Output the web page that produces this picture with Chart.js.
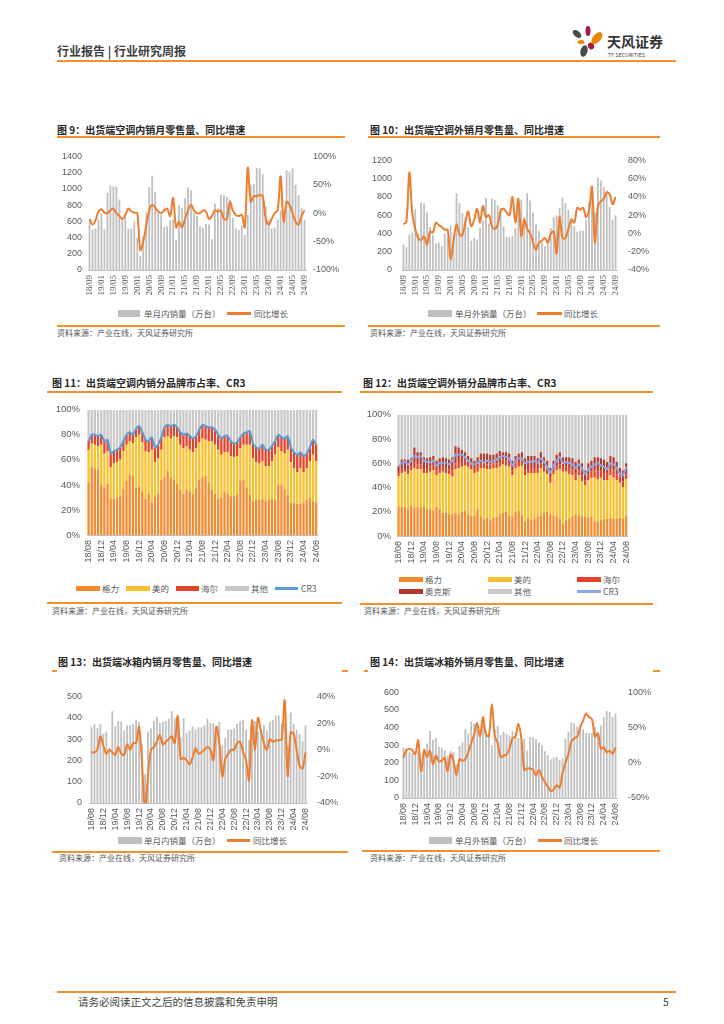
<!DOCTYPE html>
<html>
<head>
<meta charset="utf-8">
<script src="https://cdn.jsdelivr.net/npm/chart.js@4.4.1/dist/chart.umd.min.js"></script>
<style>
body{margin:0;background:#fff;width:724px;height:1024px;position:relative;overflow:hidden;font-family:"Noto Sans CJK SC","Noto Sans",sans-serif;}
.a{position:absolute;white-space:nowrap;line-height:1;}
.title{font-size:10px;font-weight:bold;color:#262626;}
.rule{position:absolute;height:1.5px;background:#F0912E;}
.src{font-size:8px;color:#555;}
.lg{font-size:8.5px;color:#595959;}
.sw{position:absolute;}
</style>
</head>
<body>

<div class="a" style="left:57px;top:45px;font-size:12px;font-weight:bold;color:#404040;">行业报告 | 行业研究周报</div>
<div class="rule" style="left:57px;top:60px;width:619px;height:2px;"></div>
<svg class="a" style="left:566px;top:22px;" width="110" height="40" viewBox="566 22 110 40">
  <ellipse cx="588" cy="31" rx="2.5" ry="5" fill="#A8193D"/>
  <ellipse cx="597" cy="38" rx="4" ry="7" fill="#F08300" transform="rotate(40 597 38)"/>
  <ellipse cx="577" cy="34" rx="3" ry="5" fill="#4A4A4A" transform="rotate(-50 577 34)"/>
  <ellipse cx="581" cy="42" rx="3.5" ry="2" fill="#F08300"/>
  <ellipse cx="591" cy="46" rx="3" ry="3.5" fill="#A8193D" transform="rotate(-30 591 46)"/>
  <ellipse cx="584" cy="51" rx="3.5" ry="6" fill="#4A4A4A" transform="rotate(15 584 51)"/>
</svg>
<div class="a" style="left:607px;top:34px;font-size:14px;font-weight:bold;color:#333;">天风证券</div>
<div class="a" style="left:608px;top:52px;font-size:5px;color:#333;letter-spacing:0.2px;">TF SECURITIES</div>

<!-- chart 9 -->
<div class="a title" style="left:57px;top:125px;">图 9：出货端空调内销月零售量、同比增速</div>
<div class="rule" style="left:57px;top:136px;width:288px;"></div>
<div class="sw" style="left:118px;top:310px;width:22px;height:7px;background:#BFBFBF;"></div>
<div class="a lg" style="left:144px;top:309px;">单月内销量（万台）</div>
<div class="sw" style="left:227px;top:312px;width:24px;height:2.5px;background:#ED7D31;"></div>
<div class="a lg" style="left:254px;top:309px;">同比增长</div>
<div class="rule" style="left:57px;top:325px;width:288px;"></div>
<div class="a src" style="left:57px;top:329px;">资料来源：产业在线，天风证券研究所</div>

<!-- chart 10 -->
<div class="a title" style="left:370px;top:125px;">图 10：出货端空调外销月零售量、同比增速</div>
<div class="rule" style="left:368px;top:136px;width:292px;"></div>
<div class="sw" style="left:428px;top:310px;width:24px;height:7px;background:#BFBFBF;"></div>
<div class="a lg" style="left:455px;top:309px;">单月外销量（万台）</div>
<div class="sw" style="left:537px;top:312px;width:25px;height:2.5px;background:#ED7D31;"></div>
<div class="a lg" style="left:564px;top:309px;">同比增长</div>
<div class="rule" style="left:368px;top:325px;width:292px;"></div>
<div class="a src" style="left:370px;top:329px;">资料来源：产业在线，天风证券研究所</div>

<!-- chart 11 -->
<div class="a title" style="left:52px;top:378px;">图 11：出货端空调内销分品牌市占率、CR3</div>
<div class="rule" style="left:47px;top:391px;width:295px;"></div>
<div class="sw" style="left:76px;top:586px;width:24px;height:5px;background:#F28A2E;"></div>
<div class="a lg" style="left:102px;top:584px;">格力</div>
<div class="sw" style="left:126px;top:586px;width:24px;height:5px;background:#FBC02D;"></div>
<div class="a lg" style="left:152px;top:584px;">美的</div>
<div class="sw" style="left:176px;top:586px;width:23px;height:5px;background:#E0432A;"></div>
<div class="a lg" style="left:201px;top:584px;">海尔</div>
<div class="sw" style="left:225px;top:586px;width:24px;height:5px;background:#C8C8C8;"></div>
<div class="a lg" style="left:251px;top:584px;">其他</div>
<div class="sw" style="left:275px;top:587px;width:23px;height:2.5px;background:#5B9BD5;"></div>
<div class="a lg" style="left:301px;top:584px;">CR3</div>
<div class="rule" style="left:47px;top:602px;width:295px;"></div>
<div class="a src" style="left:52px;top:607px;">资料来源：产业在线，天风证券研究所</div>

<!-- chart 12 -->
<div class="a title" style="left:363px;top:378px;">图 12：出货端空调外销分品牌市占率、CR3</div>
<div class="rule" style="left:360px;top:391px;width:293px;"></div>
<div class="sw" style="left:399px;top:577px;width:24px;height:5px;background:#F28A2E;"></div>
<div class="a lg" style="left:425px;top:575px;">格力</div>
<div class="sw" style="left:488px;top:577px;width:24px;height:5px;background:#FBC02D;"></div>
<div class="a lg" style="left:514px;top:575px;">美的</div>
<div class="sw" style="left:577px;top:577px;width:24px;height:5px;background:#E0432A;"></div>
<div class="a lg" style="left:603px;top:575px;">海尔</div>
<div class="sw" style="left:399px;top:589px;width:24px;height:5px;background:#B33A2C;"></div>
<div class="a lg" style="left:425px;top:587px;">奥克斯</div>
<div class="sw" style="left:488px;top:589px;width:24px;height:5px;background:#C8C8C8;"></div>
<div class="a lg" style="left:514px;top:587px;">其他</div>
<div class="sw" style="left:577px;top:590px;width:24px;height:2.5px;background:#8EA8E6;"></div>
<div class="a lg" style="left:603px;top:587px;">CR3</div>
<div class="rule" style="left:360px;top:603px;width:293px;"></div>
<div class="a src" style="left:364px;top:607px;">资料来源：产业在线，天风证券研究所</div>

<!-- chart 13 -->
<div class="a title" style="left:58px;top:657px;">图 13：出货端冰箱内销月零售量、同比增速</div>
<div class="rule" style="left:52px;top:670px;width:5px;"></div>
<div class="rule" style="left:342px;top:670px;width:6px;"></div>
<div class="sw" style="left:118px;top:837px;width:24px;height:7px;background:#BFBFBF;"></div>
<div class="a lg" style="left:144px;top:836px;">单月内销量（万台）</div>
<div class="sw" style="left:227px;top:839px;width:23px;height:2.5px;background:#ED7D31;"></div>
<div class="a lg" style="left:253px;top:836px;">同比增长</div>
<div class="rule" style="left:52px;top:851px;width:296px;"></div>
<div class="a src" style="left:59px;top:854px;">资料来源：产业在线，天风证券研究所</div>

<!-- chart 14 -->
<div class="a title" style="left:370px;top:657px;">图 14：出货端冰箱外销月零售量、同比增速</div>
<div class="rule" style="left:364px;top:670px;width:4px;"></div>
<div class="rule" style="left:653px;top:670px;width:7px;"></div>
<div class="sw" style="left:429px;top:837px;width:23px;height:7px;background:#BFBFBF;"></div>
<div class="a lg" style="left:455px;top:836px;">单月外销量（万台）</div>
<div class="sw" style="left:538px;top:839px;width:24px;height:2.5px;background:#ED7D31;"></div>
<div class="a lg" style="left:564px;top:836px;">同比增长</div>
<div class="rule" style="left:362px;top:850px;width:298px;"></div>
<div class="a src" style="left:370px;top:854px;">资料来源：产业在线，天风证券研究所</div>

<div class="rule" style="left:57px;top:991px;width:619px;height:2px;"></div>
<div class="a" style="left:78px;top:997px;font-size:10.5px;color:#404040;">请务必阅读正文之后的信息披露和免责申明</div>
<div class="a" style="left:663px;top:997px;font-size:10.5px;color:#404040;">5</div>

<script>
// months 18/09 - 24/09 (air-con charts 9, 10)
var monthsA = ['18/09','18/10','18/11','18/12',
  '19/01','19/02','19/03','19/04','19/05','19/06','19/07','19/08','19/09','19/10','19/11','19/12',
  '20/01','20/02','20/03','20/04','20/05','20/06','20/07','20/08','20/09','20/10','20/11','20/12',
  '21/01','21/02','21/03','21/04','21/05','21/06','21/07','21/08','21/09','21/10','21/11','21/12',
  '22/01','22/02','22/03','22/04','22/05','22/06','22/07','22/08','22/09','22/10','22/11','22/12',
  '23/01','23/02','23/03','23/04','23/05','23/06','23/07','23/08','23/09','23/10','23/11','23/12',
  '24/01','24/02','24/03','24/04','24/05','24/06','24/07','24/08','24/09'];
// months 18/08 - 24/08 (charts 11-14)
var monthsB = ['18/08','18/09','18/10','18/11','18/12',
  '19/01','19/02','19/03','19/04','19/05','19/06','19/07','19/08','19/09','19/10','19/11','19/12',
  '20/01','20/02','20/03','20/04','20/05','20/06','20/07','20/08','20/09','20/10','20/11','20/12',
  '21/01','21/02','21/03','21/04','21/05','21/06','21/07','21/08','21/09','21/10','21/11','21/12',
  '22/01','22/02','22/03','22/04','22/05','22/06','22/07','22/08','22/09','22/10','22/11','22/12',
  '23/01','23/02','23/03','23/04','23/05','23/06','23/07','23/08','23/09','23/10','23/11','23/12',
  '24/01','24/02','24/03','24/04','24/05','24/06','24/07','24/08'];

// chart 9 空调内销
var acDomVol = [610,500,510,620,
  700,500,950,1040,1030,1030,870,640,660,510,510,600,
  400,170,420,710,1020,1160,960,700,680,530,540,610,
  620,370,800,760,880,1020,980,700,670,540,520,570,
  560,380,820,760,930,920,900,870,640,510,490,550,
  430,680,1050,1060,1260,1250,1180,790,620,510,520,620,
  730,640,1230,1210,1250,1050,920,760,620];
var acDomYoy = [-10,-20,-13,3,
  7,1,0,5,8,0,-5,-10,-3,8,3,1,
  0,-65,-50,-22,5,15,10,3,0,5,8,-5,
  27,-25,-15,-25,-10,5,15,5,0,0,5,3,
  -10,-5,5,3,5,-10,-10,20,5,-3,-5,-3,
  -25,80,20,30,30,32,30,-10,-20,-10,0,5,
  65,-15,20,15,0,-15,-20,-5,5];

// chart 10 空调外销
var acExpVol = [280,250,390,410,
  670,400,740,730,630,470,380,290,300,260,400,360,
  490,380,840,730,620,580,470,320,350,330,460,540,
  790,510,780,770,710,680,480,360,360,370,460,770,
  770,580,840,760,630,500,430,300,260,290,460,580,
  600,680,790,730,660,570,480,420,430,430,550,740,
  880,630,1010,980,910,870,690,550,600];
var acExpYoy = [10,13,67,22,
  5,-5,-7,-3,-12,2,1,12,9,7,4,4,
  -28,-8,10,-1,-2,12,24,8,15,27,12,30,
  18,20,8,5,10,25,27,23,20,40,12,38,
  -3,15,5,0,-10,-18,-10,-8,-5,-10,0,2,
  -22,18,-5,-5,5,15,12,28,26,28,18,25,
  51,-10,30,35,38,45,43,32,40];

// chart 11 内销品牌份额 (%)
var dGree = [42,54,53,52,40,
  38,41,29,29,30,31,37,43,48,47,38,39,
  35,29,33,26,31,33,44,46,51,46,44,41,
  36,33,36,35,33,38,44,46,47,42,36,33,
  29,30,35,33,31,31,32,43,44,38,32,27,
  28,28,29,27,28,29,28,40,40,36,32,26,
  26,25,25,26,28,30,27,26];
var dMidea = [26,19,19,19,32,
  27,26,25,28,28,29,30,29,27,26,40,41,
  39,38,33,42,27,28,24,32,28,31,35,37,
  36,36,35,33,33,31,30,31,29,33,39,39,
  39,34,31,33,32,31,31,26,28,34,40,34,
  30,29,30,28,27,30,36,30,27,29,36,32,
  27,25,28,24,25,29,37,33];
var dHaier = [7,7,8,8,8,
  10,9,11,10,10,10,8,8,7,7,7,7,
  8,9,9,10,12,11,10,8,9,10,9,8,
  10,11,10,11,11,10,10,11,11,11,11,12,
  12,13,13,13,12,11,11,9,9,10,11,12,
  12,12,13,13,13,12,11,10,11,12,11,12,
  13,14,13,13,12,11,12,13];
var dCr3 = [75,80,80,79,80,
  75,76,65,67,68,70,75,80,82,80,85,87,
  82,76,75,78,70,72,78,86,88,87,88,86,
  82,80,81,79,77,79,84,88,87,86,86,84,
  80,77,79,79,75,73,74,78,81,82,83,73,
  70,69,72,68,68,71,75,80,78,77,79,70,
  66,64,66,63,65,70,76,72];

// chart 12 外销品牌份额 (%)
var eGree = [24,24,24,22,25,
  23,24,23,24,22,22,21,24,22,19,19,18,
  18,19,18,20,21,18,17,17,22,16,14,15,
  13,15,16,18,19,20,17,16,20,21,17,12,
  15,13,14,16,17,19,20,18,17,16,14,10,
  13,14,16,18,17,16,16,15,16,12,12,13,
  14,14,15,14,14,15,14,17];
var eMidea = [25,28,29,29,29,
  33,31,32,28,30,31,33,26,30,34,33,33,
  31,36,38,37,37,39,38,35,31,40,42,40,
  42,41,40,39,40,38,40,34,36,36,41,38,
  37,39,38,36,39,34,31,26,34,38,41,43,
  40,37,34,28,33,29,26,31,32,36,35,35,
  32,32,35,34,32,29,26,30];
var eHaier = [3,4,3,4,3,
  5,4,4,4,4,4,4,4,4,4,4,4,
  5,5,5,4,4,4,4,4,4,4,4,4,
  4,4,4,4,4,4,4,4,4,4,4,4,
  4,4,4,4,4,4,4,4,4,4,4,4,
  4,5,5,5,4,5,4,5,5,6,6,6,
  6,6,6,6,5,5,5,4];
var eAux = [6,7,7,8,7,
  12,10,10,9,8,8,8,8,8,8,8,8,
  11,14,12,10,7,5,5,6,8,8,8,9,
  8,7,8,9,6,7,7,8,6,7,7,10,
  10,10,10,8,9,8,7,8,7,9,10,8,
  8,9,9,10,9,10,8,9,9,11,12,10,
  11,9,10,11,10,7,9,9];
var eCr3 = [57,60,61,59,62,
  66,65,66,62,61,61,62,58,60,60,60,59,
  62,67,67,67,65,62,60,59,60,62,61,62,
  61,62,63,65,66,65,64,58,62,64,64,60,
  61,61,62,60,64,61,57,52,58,62,65,60,
  61,60,59,56,59,56,51,55,57,59,60,58,
  57,55,60,59,56,51,50,57];

// chart 13 冰箱内销
var frDomVol = [355,368,352,370,325,
  335,258,430,360,385,382,340,365,365,370,390,380,
  275,135,335,350,385,405,375,380,385,395,430,400,
  415,310,398,330,340,360,345,355,355,365,395,375,
  375,365,380,270,305,345,345,350,370,385,390,345,
  295,390,385,335,345,365,340,380,390,410,410,375,
  370,270,425,370,345,325,290,365];
var frDomYoy = [-2,-2,0,10,3,
  -3,0,-2,-4,2,-3,-4,4,0,5,5,17,
  -10,-45,-20,0,2,6,11,4,6,8,10,5,
  25,-7,-6,-8,-11,-6,1,-3,-2,0,2,0,
  -8,17,5,-20,-7,-3,0,0,5,6,-2,-8,
  -23,22,0,24,14,5,0,8,6,7,7,8,
  37,-20,13,12,0,-12,-14,-2];

// chart 14 冰箱外销
var frExpVol = [285,270,260,255,240,
  265,185,280,310,380,330,340,290,285,270,240,265,
  260,190,295,315,390,365,435,425,430,360,455,385,
  370,300,390,410,360,375,365,355,380,370,340,320,
  335,270,345,345,335,315,300,265,245,220,230,235,
  215,225,340,375,430,425,405,415,390,370,370,370,
  405,370,410,460,495,490,460,480];
var frExpYoy = [7,18,20,18,12,
  32,-12,18,8,17,-2,10,2,3,7,-12,12,
  2,-17,5,3,5,15,28,40,56,38,65,40,
  38,83,38,28,8,10,12,20,35,37,55,35,
  -10,-8,-8,-10,-18,-10,-20,-27,-34,-40,-38,-32,
  -35,-15,0,12,30,35,37,50,60,70,65,62,
  37,42,20,22,15,17,13,22];

Chart.defaults.font.family = '"Liberation Sans", "Noto Sans CJK SC", sans-serif';
Chart.defaults.font.size = 9;
Chart.defaults.color = '#595959';
Chart.defaults.animation = false;
Chart.defaults.plugins.legend.display = false;
Chart.defaults.plugins.tooltip.enabled = false;

var PT = 6;
function mount(p) {
  var d = document.createElement('div');
  d.style.position = 'absolute';
  d.style.left = (p.l - p.wl) + 'px';
  d.style.top = (p.t - PT) + 'px';
  d.style.width = (p.r - p.l + p.wl + p.wr) + 'px';
  d.style.height = (p.b - p.t + PT + p.xh) + 'px';
  var c = document.createElement('canvas');
  d.appendChild(c);
  document.body.appendChild(d);
  return c;
}

function xAxis(p, cats, fam) {
  return {
    type: 'category', offset: true,
    grid: {display: false, drawTicks: false},
    border: {display: true, color: '#BFBFBF', width: 1},
    ticks: {autoSkip: false, minRotation: 90, maxRotation: 90, padding: 5,
      font: {size: 9, family: fam},
      callback: function(v, i) { return i % 4 === 0 ? cats[i] : ''; }},
    afterFit: function(s) { s.height = p.xh; }
  };
}

function volChart(p, cats, bars, yoy, ax, fam) {
  var c = mount(p);
  new Chart(c, {
    type: 'bar',
    data: {
      labels: cats,
      datasets: [
        {type: 'line', data: yoy, yAxisID: 'y1', borderColor: '#ED7D31', borderWidth: 2,
          pointRadius: 0, tension: 0.35, order: 0},
        {data: bars, yAxisID: 'y', backgroundColor: '#BFBFBF', barPercentage: 0.6,
          categoryPercentage: 1, order: 1}
      ]
    },
    options: {
      responsive: true, maintainAspectRatio: false,
      layout: {padding: {top: PT, left: 0, right: 0, bottom: 0}},
      scales: {
        x: xAxis(p, cats, fam),
        y: {position: 'left', min: 0, max: ax.max, grid: {display: false, drawTicks: false},
          border: {display: false},
          ticks: {stepSize: ax.step, padding: p.pl, callback: function(v) { return String(v); }},
          afterFit: function(s) { s.width = p.wl; }},
        y1: {position: 'right', min: ax.rmin, max: ax.rmax, grid: {display: false, drawTicks: false},
          border: {display: false},
          ticks: {stepSize: ax.rstep, padding: p.pr, callback: function(v) { return v + '%'; }},
          afterFit: function(s) { s.width = p.wr; }}
      }
    }
  });
}

function shareChart(p, cats, series, cr3, crColor) {
  var c = mount(p);
  var ds = [{type: 'line', data: cr3, yAxisID: 'y1', borderColor: crColor, borderWidth: 2,
    pointRadius: 0, tension: 0.2, order: 0}];
  series.forEach(function(s) {
    ds.push({data: s.data, yAxisID: 'y', backgroundColor: s.color, barPercentage: 0.72,
      categoryPercentage: 1, order: 1});
  });
  new Chart(c, {
    type: 'bar',
    data: {labels: cats, datasets: ds},
    options: {
      responsive: true, maintainAspectRatio: false,
      layout: {padding: {top: PT, left: 0, right: 0, bottom: 0}},
      scales: {
        x: Object.assign(xAxis(p, cats), {stacked: true}),
        y: {stacked: true, position: 'left', min: 0, max: 100, grid: {display: false, drawTicks: false},
          border: {display: false},
          ticks: {stepSize: 20, padding: p.pl, font: {size: 9.5}, callback: function(v) { return v + '%'; }},
          afterFit: function(s) { s.width = p.wl; }},
        y1: {display: false, min: 0, max: 100}
      }
    }
  });
}

volChart({l: 88, r: 306, t: 150, b: 270, wl: 32, wr: 40, pl: 6, pr: 7, xh: 34},
  monthsA, acDomVol, acDomYoy, {max: 1400, step: 200, rmin: -100, rmax: 100, rstep: 50},
  '"Liberation Serif", serif');
volChart({l: 402, r: 617, t: 150, b: 270, wl: 32, wr: 40, pl: 10, pr: 11, xh: 34},
  monthsA, acExpVol, acExpYoy, {max: 1200, step: 200, rmin: -40, rmax: 80, rstep: 20},
  '"Liberation Serif", serif');

var other11 = dCr3.map(function(v) { return 100 - v; });
shareChart({l: 87, r: 326, t: 403, b: 535, wl: 36, wr: 6, pl: 7, xh: 32}, monthsB, [
  {data: dGree, color: '#F28A2E'},
  {data: dMidea, color: '#FBC02D'},
  {data: dHaier, color: '#E0432A'},
  {data: other11, color: '#C8C8C8'}
], dCr3, '#5B9BD5');

var other12 = eGree.map(function(v, i) { return 100 - v - eMidea[i] - eHaier[i] - eAux[i]; });
shareChart({l: 397, r: 636, t: 409, b: 536, wl: 36, wr: 6, pl: 6, xh: 32}, monthsB, [
  {data: eGree, color: '#F28A2E'},
  {data: eMidea, color: '#FBC02D'},
  {data: eHaier, color: '#E0432A'},
  {data: eAux, color: '#B33A2C'},
  {data: other12, color: '#C8C8C8'}
], eCr3, '#8EA8E6');

volChart({l: 90, r: 307, t: 687, b: 803, wl: 32, wr: 35, pl: 8, pr: 10, xh: 34},
  monthsB, frDomVol, frDomYoy, {max: 500, step: 100, rmin: -40, rmax: 40, rstep: 20});
volChart({l: 402, r: 617, t: 682, b: 798, wl: 24, wr: 38, pl: 3, pr: 11, xh: 34},
  monthsB, frExpVol, frExpYoy, {max: 600, step: 100, rmin: -50, rmax: 100, rstep: 50});
</script>
</body>
</html>
